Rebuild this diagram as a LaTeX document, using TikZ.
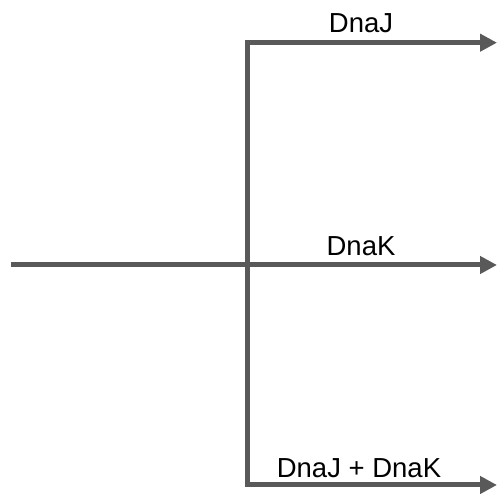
\documentclass[tikz,border=0pt]{standalone}
\usepackage{fontspec}
\setmainfont{Liberation Sans}
\usetikzlibrary{arrows.meta}
\definecolor{linegray}{HTML}{595959}
\tikzset{
  conn/.style={draw=linegray, line width=5pt, line join=miter},
  tipped/.style={-{Triangle[length=17pt,width=17pt]}},
  lbl/.style={anchor=base, inner sep=0pt, font=\fontsize{27.5pt}{32pt}\selectfont}
}
\begin{document}
\begin{tikzpicture}[x=1pt,y=1pt]
\useasboundingbox (0,0) rectangle (500,494);
\coordinate (start) at (11,229);
\coordinate (endK) at (497,229);
\coordinate (topcorner) at (247,451.3);
\coordinate (endJ) at (497,451.3);
\coordinate (botcorner) at (247,9);
\coordinate (endJK) at (497,9);
\draw[conn, tipped] (start) -- (endK);
\draw[conn, {Triangle[length=17pt,width=17pt]}-{Triangle[length=17pt,width=17pt]}] (endJ) -- (topcorner) -- (botcorner) -- (endJK);
\node[lbl] (lJ) at (361,461) {DnaJ};
\node[lbl] (lK) at (361,238) {DnaK};
\node[lbl] (lJK) at (359,16) {DnaJ + DnaK};
\end{tikzpicture}
\end{document}
